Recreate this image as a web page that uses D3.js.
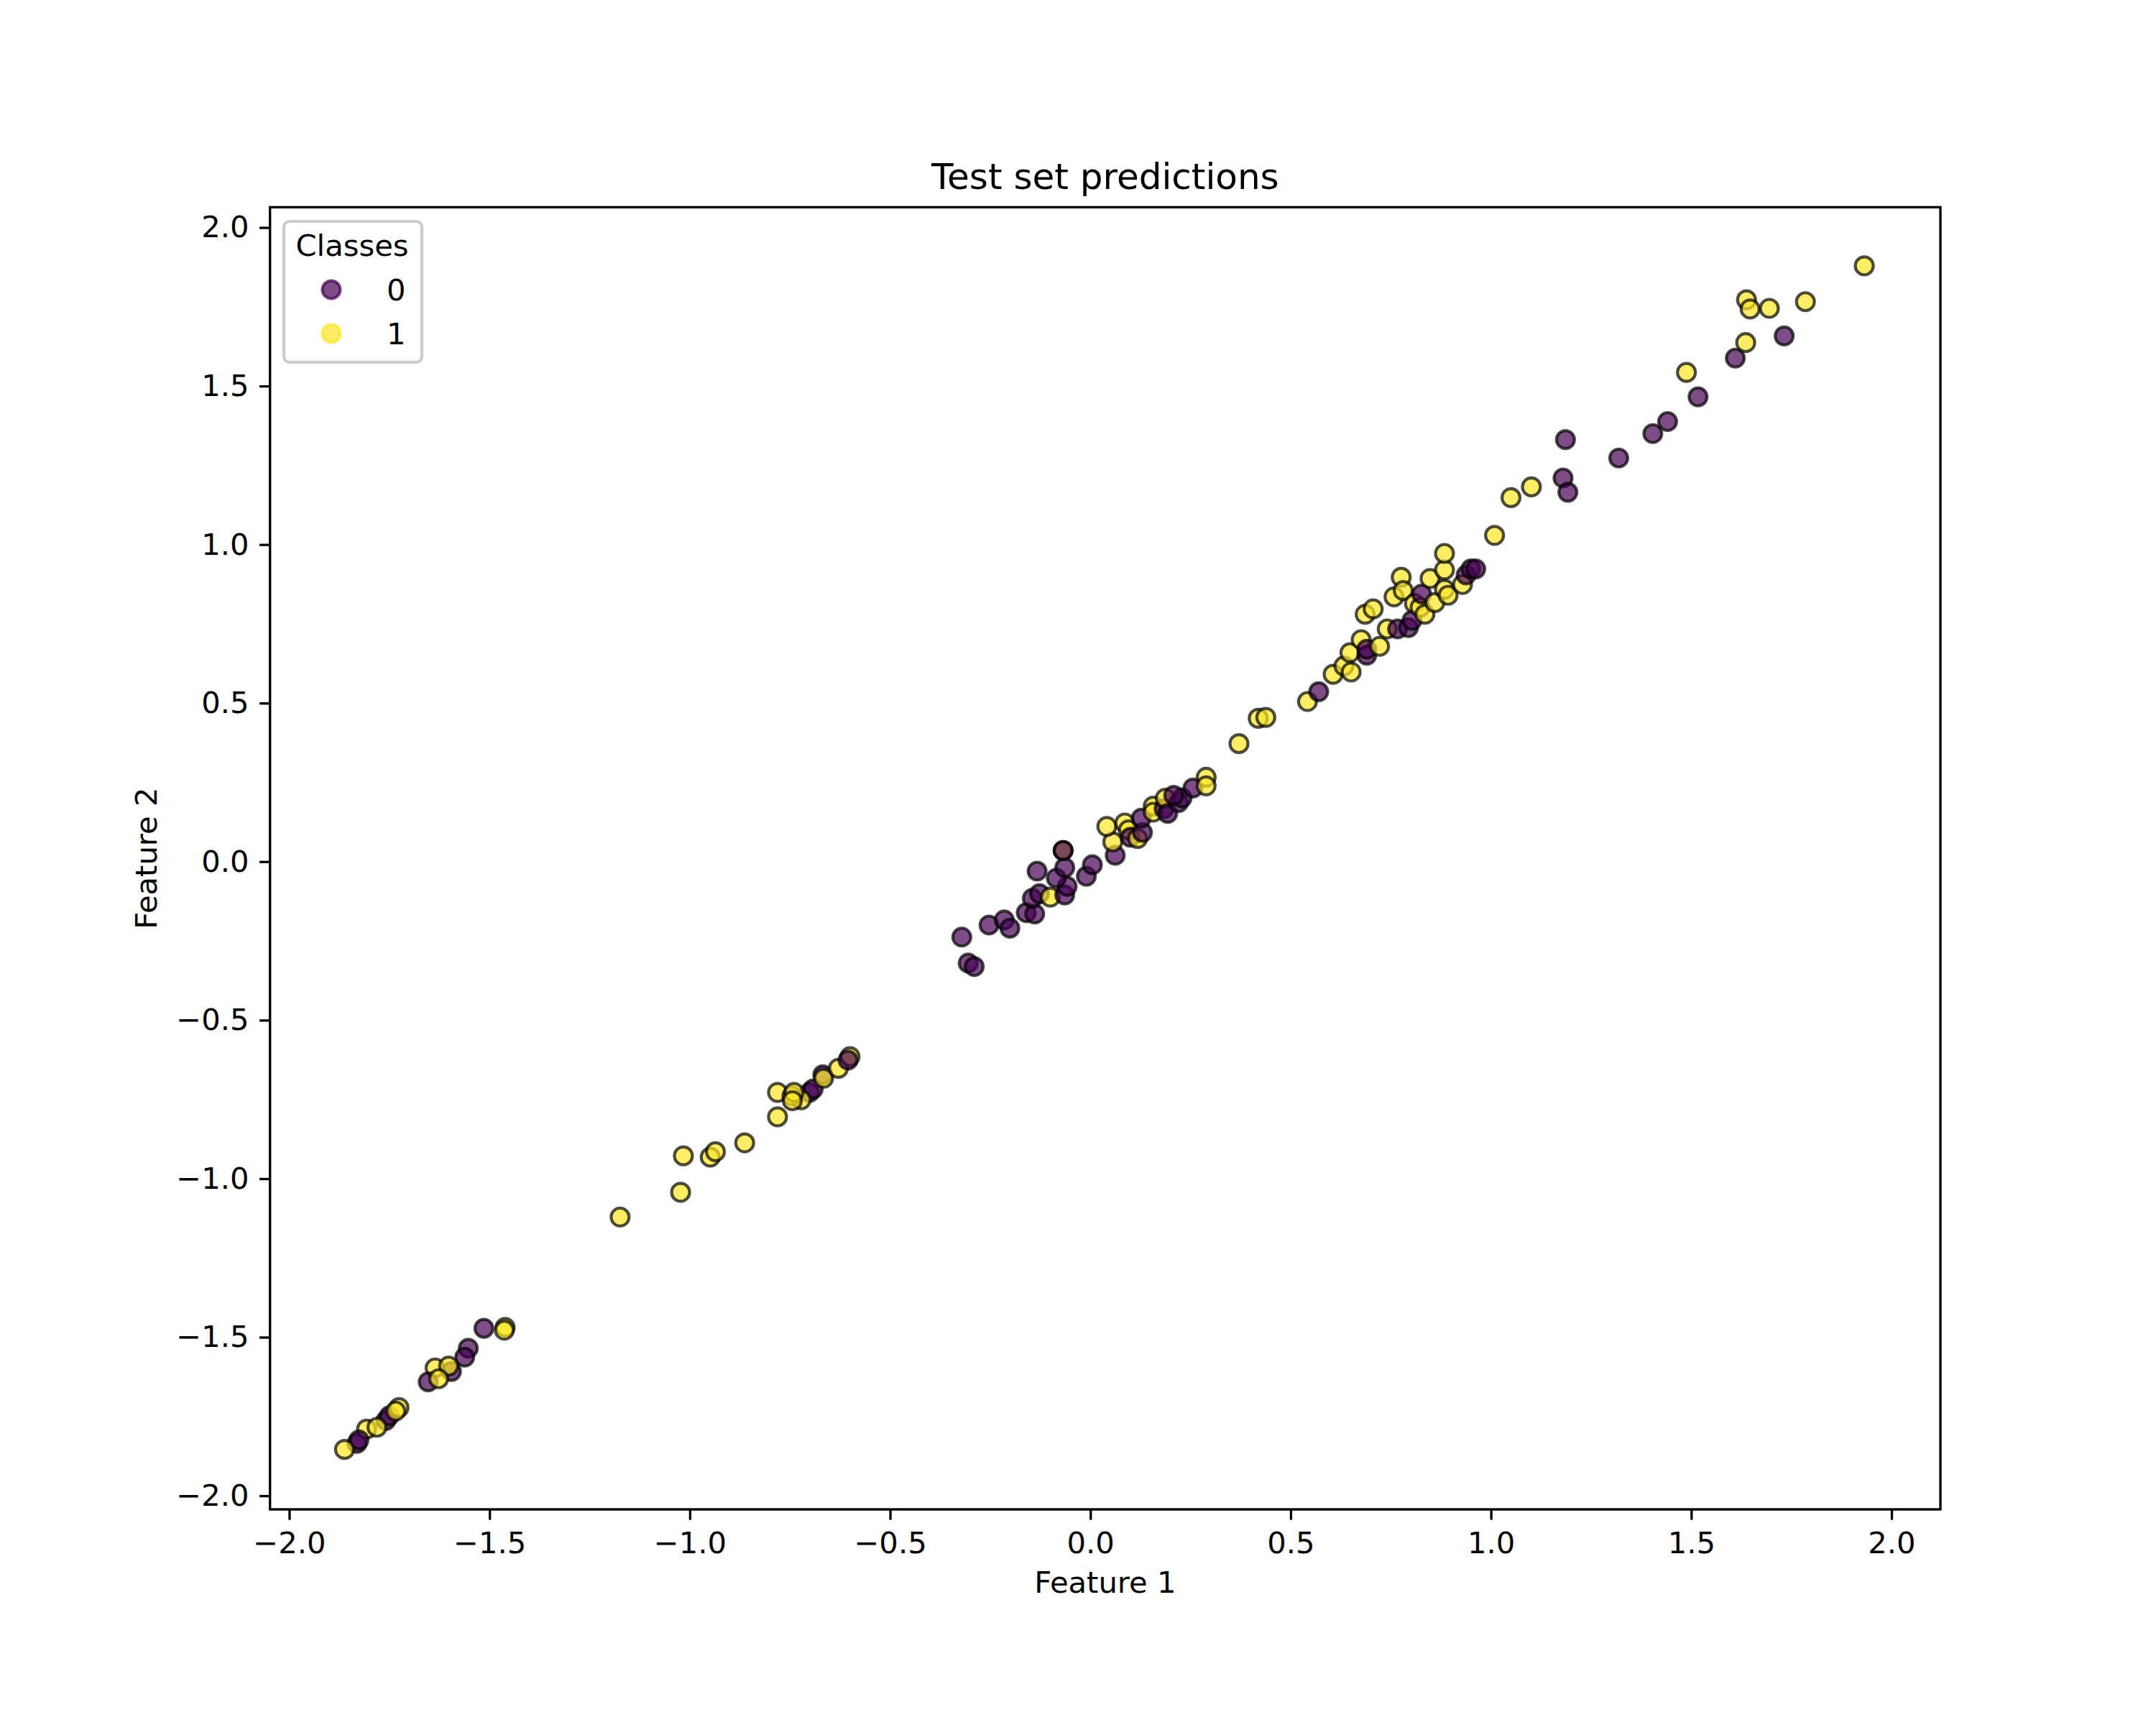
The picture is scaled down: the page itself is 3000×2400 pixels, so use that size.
<!DOCTYPE html>
<html>
<head>
<meta charset="utf-8">
<script src="https://cdn.jsdelivr.net/npm/d3@7"></script>
<style>
  html, body { margin: 0; padding: 0; background: #fff; }
  text { font-family: "DejaVu Sans", sans-serif; fill: #000; }
</style>
</head>
<body>
<svg id="chart" width="3000" height="2400"></svg>
<script>
// ---- Data ----
const featureX = [
  -1.514,-1.461,-1.463,-1.553,-1.562,-1.636,-1.595,-1.602,-1.653,-1.627,
  -1.759,-1.750,-1.726,-1.734,-1.807,-1.781,-1.831,-1.826,-1.862,
  -1.174,-1.023,-1.016,-0.949,-0.936,-0.863,-0.781,-0.781,-0.701,-0.692,
  -0.722,-0.745,-0.740,-0.744,-0.668,-0.666,-0.629,-0.600,-0.605,
  -0.305,-0.290,-0.321,-0.253,-0.215,-0.201,-0.160,-0.139,-0.145,-0.127,
  -0.100,-0.064,-0.058,-0.085,-0.133,-0.064,-0.068,-0.068,-0.010,0.005,
  0.062,0.056,0.041,0.086,0.095,0.100,0.118,0.130,0.127,0.157,
  0.157,0.184,0.187,0.193,0.220,0.229,0.256,0.289,0.289,0.208,
  0.371,0.419,0.438,0.542,0.570,0.606,0.633,0.651,0.648,0.676,
  0.690,0.690,0.722,0.686,0.706,0.741,0.767,0.794,0.803,0.758,
  0.776,0.781,0.809,0.823,0.835,0.827,0.848,0.860,0.884,0.884,
  0.884,0.893,0.929,0.938,0.950,0.962,
  1.009,1.050,1.101,1.180,1.192,1.186,1.319,1.404,1.441,1.517,
  1.488,1.610,1.636,1.732,1.638,1.647,1.695,1.785,1.932
];
const featureY = [
  -1.472,-1.469,-1.478,-1.535,-1.563,-1.597,-1.608,-1.591,-1.641,-1.631,
  -1.763,-1.748,-1.722,-1.733,-1.790,-1.784,-1.835,-1.824,-1.854,
  -1.121,-1.043,-0.928,-0.932,-0.915,-0.887,-0.805,-0.728,-0.728,-0.717,
  -0.751,-0.739,-0.728,-0.754,-0.672,-0.683,-0.652,-0.615,-0.626,
  -0.320,-0.331,-0.238,-0.200,-0.184,-0.210,-0.161,-0.165,-0.116,-0.101,
  -0.112,-0.105,-0.078,-0.052,-0.030,-0.019,0.035,0.035,-0.046,-0.010,
  0.020,0.062,0.111,0.122,0.100,0.077,0.073,0.092,0.137,0.175,
  0.156,0.167,0.200,0.152,0.186,0.201,0.232,0.266,0.239,0.209,
  0.372,0.452,0.455,0.505,0.536,0.591,0.617,0.598,0.659,0.700,
  0.651,0.670,0.679,0.780,0.797,0.734,0.734,0.738,0.761,0.835,
  0.897,0.855,0.814,0.802,0.780,0.844,0.893,0.817,0.859,0.920,
  0.972,0.840,0.874,0.904,0.923,0.923,
  1.029,1.148,1.182,1.210,1.165,1.331,1.273,1.350,1.388,1.466,
  1.543,1.588,1.637,1.658,1.772,1.743,1.745,1.766,1.879
];
const predictedClass = [
  0,1,1,0,0,1,0,1,0,1,
  0,0,1,1,1,1,0,0,1,
  1,1,1,1,1,1,1,1,0,0,
  1,1,1,1,0,1,1,1,0,
  0,0,0,0,0,0,0,0,0,0,
  1,0,0,0,0,0,1,0,0,0,
  0,1,1,1,1,0,1,0,0,1,
  1,0,1,0,0,0,0,1,1,0,
  1,1,1,1,0,1,1,1,1,1,
  0,0,1,1,1,1,0,0,0,1,
  1,1,1,1,1,0,1,1,1,1,
  1,1,1,0,0,0,
  1,1,1,0,0,0,0,0,0,0,
  1,0,1,0,1,1,1,1,1
];
const classNames = ["0", "1"];
const classColors = ["#440154", "#fde725"];
const xTicks = [-2.0, -1.5, -1.0, -0.5, 0.0, 0.5, 1.0, 1.5, 2.0];
const yTicks = [-2.0, -1.5, -1.0, -0.5, 0.0, 0.5, 1.0, 1.5, 2.0];
const titleText = "Test set predictions";
const xLabelText = "Feature 1";
const yLabelText = "Feature 2";
const legendTitle = "Classes";

// ---- Layout ----
const L = 375.7, R = 2700, T = 288.3, B = 2100;
const svg = d3.select("#chart");
svg.append("rect").attr("width", 3000).attr("height", 2400).attr("fill", "#fff");

const x = d3.scaleLinear().domain([-2.048, 2.122]).range([L, R]);
const y = d3.scaleLinear().domain([-2.043, 2.064]).range([B, T]);
const color = d3.scaleOrdinal().domain([0, 1]).range(classColors);
const fmt = v => d3.format(".1f")(v).replace("-", "\u2212");

svg.append("clipPath").attr("id", "plotclip")
  .append("rect").attr("x", L).attr("y", T).attr("width", R - L).attr("height", B - T);

// points
const pts = featureX.map((v, i) => ({ x: v, y: featureY[i], c: predictedClass[i] }));
svg.append("g").attr("clip-path", "url(#plotclip)")
  .selectAll("circle").data(pts).enter().append("circle")
  .attr("cx", d => x(d.x)).attr("cy", d => y(d.y)).attr("r", 12.5)
  .attr("fill", d => color(d.c)).attr("fill-opacity", 0.7)
  .attr("stroke", "#000").attr("stroke-opacity", 0.7).attr("stroke-width", 4.17);

// axes
const tickLen = 14.6, tickW = 3.33;
const xAxis = d3.axisBottom(x).tickValues(xTicks).tickFormat(fmt).tickSizeInner(tickLen).tickSizeOuter(0).tickPadding(14.6);
const yAxis = d3.axisLeft(y).tickValues(yTicks).tickFormat(fmt).tickSizeInner(tickLen).tickSizeOuter(0).tickPadding(14.6);
const gx = svg.append("g").attr("transform", `translate(0,${B})`).call(xAxis);
const gy = svg.append("g").attr("transform", `translate(${L},0)`).call(yAxis);
[gx, gy].forEach(g => {
  g.select(".domain").remove();
  g.selectAll(".tick line").attr("stroke", "#000").attr("stroke-width", tickW);
  g.selectAll(".tick text").attr("font-family", "DejaVu Sans").attr("font-size", 41.7).attr("fill", "#000");
});
gx.selectAll(".tick text").attr("dy", "0.76em");

// spines
svg.append("rect").attr("x", L).attr("y", T).attr("width", R - L).attr("height", B - T)
  .attr("fill", "none").attr("stroke", "#000").attr("stroke-width", 3.33);

// title & labels
svg.append("text").attr("x", (L + R) / 2).attr("y", 263).attr("text-anchor", "middle")
  .attr("font-size", 50).text(titleText);
svg.append("text").attr("x", (L + R) / 2).attr("y", 2216).attr("text-anchor", "middle")
  .attr("font-size", 41.7).text(xLabelText);
svg.append("text").attr("transform", `translate(218,${(T + B) / 2}) rotate(-90)`)
  .attr("text-anchor", "middle").attr("font-size", 41.7).text(yLabelText);

// legend
const lg = svg.append("g");
lg.append("rect").attr("x", 395).attr("y", 308).attr("width", 192).attr("height", 196)
  .attr("rx", 8).attr("fill", "#fff").attr("fill-opacity", 0.8)
  .attr("stroke", "#cccccc").attr("stroke-width", 4.17);
lg.append("text").attr("x", 490).attr("y", 356).attr("text-anchor", "middle")
  .attr("font-size", 41.7).text(legendTitle);
classNames.forEach((name, i) => {
  const cy = 403 + i * 61;
  lg.append("circle").attr("cx", 461).attr("cy", cy).attr("r", 12.5)
    .attr("fill", classColors[i]).attr("fill-opacity", 0.7)
    .attr("stroke", classColors[i]).attr("stroke-opacity", 0.7).attr("stroke-width", 4.17);
  lg.append("text").attr("x", 538).attr("y", cy + 14.5).attr("font-size", 41.7).text(name);
});
</script>
</body>
</html>
